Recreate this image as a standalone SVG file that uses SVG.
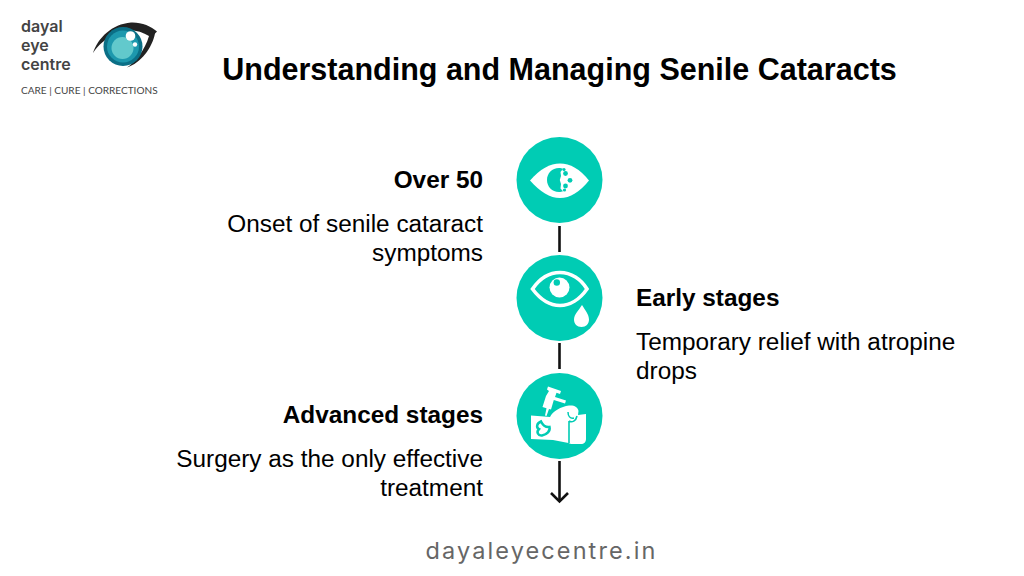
<svg xmlns="http://www.w3.org/2000/svg" width="1024" height="576" viewBox="0 0 1024 576">
<style>
text{font-family:"Liberation Sans",Arial,sans-serif;fill:#000}
.h{font-size:24.350px;font-weight:700}
.b{font-size:24.350px}
.r{text-anchor:end}
.c{fill:#00ccb4}
.w{fill:#fff}
.logo-name{font-family:Inter,"Open Sans",sans-serif;font-size:16px;font-weight:600;fill:#444}
.logo-tag{font-family:Lato,"Open Sans",sans-serif;font-size:10.050px;fill:#444}
.conn{stroke:#111;stroke-width:2.600;fill:none}
.tl{stroke:#00ccb4;fill:none}
</style>
<rect width="1024" height="576" fill="#fff"/>
<g id="logo">
<text class="logo-name" x="21" y="32">dayal</text>
<text class="logo-name" x="21" y="51">eye</text>
<text class="logo-name" x="21" y="70">centre</text>
<text class="logo-tag" x="21" y="94">CARE | CURE | CORRECTIONS</text>
<path d="M93 53C98 38 112 24 131 22.500C141 22 151 26 157 31.500L155 33.500C152 48 141 63 127 67.500C135 62 145 50 149 36C140 30 127 28 117 33C106 38 98 45 93 53Z" fill="#222"/>
<circle cx="123" cy="46.500" r="19.500" fill="#0b6f86"/>
<circle cx="123" cy="46.500" r="16" fill="#1d98ad"/>
<circle cx="122.500" cy="48" r="11" fill="#62c9cc"/>
<circle cx="130.500" cy="36" r="4.800" fill="#fff"/>
<circle cx="135" cy="44.500" r="2.200" fill="#fff"/>
</g>
<g id="title"><text x="559.500" y="79.500" text-anchor="middle" font-size="30.500" font-weight="700">Understanding and Managing Senile Cataracts</text></g>
<g id="connectors" class="conn">
<path d="M559.500 226V252"/>
<path d="M559.500 343V369"/>
<path d="M559.500 461V502"/>
<path d="M551 493L559.500 501.500L568 493"/>
</g>
<g id="node-over-50">
<circle class="c" cx="559.500" cy="180" r="43"/>
<path class="w" d="M530 180.500C540 169 550 163.500 560 163.500C570 163.500 580 169 589 180.500C580 192 570 198 560 198C550 198 540 192 530 180.500Z"/>
<path class="c" d="M559 168C552 168 547 173.500 547 180C547 186.500 552 192 559 192C560.500 192 562 191.700 563 191.200L560.500 188.500L561 184L559.800 180L561 176L560.500 172L563 168.800C562 168.300 560.500 168 559 168Z"/>
<circle class="c" cx="565.500" cy="173.500" r="2.400"/><circle class="c" cx="570" cy="180.300" r="2.400"/><circle class="c" cx="565.500" cy="186" r="2.400"/><circle class="c" cx="564" cy="169.500" r="1.600"/><circle class="c" cx="564.500" cy="190" r="1.600"/>
<text class="h r" x="483" y="188">Over 50</text>
<text class="b r" x="483" y="232">Onset of senile cataract</text>
<text class="b r" x="483" y="261">symptoms</text>
</g>
<g id="node-early-stages">
<circle class="c" cx="559.500" cy="298" r="43"/>
<path d="M532.500 289C540 278 550 272.500 560 272.500C571 272.500 581 279 587 289C580 299 570 305.500 560 305.500C550 305.500 540 299 532.500 289Z" fill="none" stroke="#fff" stroke-width="3.600"/>
<circle class="w" cx="559.500" cy="287.500" r="10"/>
<circle class="c" cx="556.800" cy="282.500" r="3.200"/>
<path class="w" d="M582 305C585 310 589 314.500 589 319.500C589 324 586 327 581.500 327C577 327 574 324 574 319.500C574 314.500 579 310 582 305Z"/>
<text class="h" x="636" y="306">Early stages</text>
<text class="b" x="636" y="350">Temporary relief with atropine</text>
<text class="b" x="636" y="379">drops</text>
</g>
<g id="node-advanced-stages">
<circle class="c" cx="559.500" cy="416" r="43"/>
<path class="w" d="M531 415.500L544 416.500L550 417C553 411 561 406.500 569 405.500C574 405 578 407 578.500 411L578 415L586 414V439C586 442 584 444 581 444H573C571 444 569 443.500 568.500 443L553 440L531 439Z"/>
<path class="tl" stroke-width="1.600" d="M569 421V443M569 421C572 423 576 421 577 416"/>
<path class="tl" stroke-width="1.500" d="M568 412C568 416 570 419 574 418"/>
<path class="tl" stroke-width="2.500" d="M541 421.500C536.500 423.500 536 427.500 539 429C536 432 538 436 542 435.500C547 434.500 550.500 431 549.500 427C546 427.500 543 425.500 541 421.500Z"/>
<path class="w" d="M548 386.500L561 391L560 394L556.500 392.800L555 397L566 400.500L565 403.500L553.800 400L551 409.500L549 409L546.500 416L545 415.500L546.500 408.300L542.500 407L546 396L549 391L547 389.500Z"/>
<text class="h r" x="483" y="423">Advanced stages</text>
<text class="b r" x="483" y="467">Surgery as the only effective</text>
<text class="b r" x="483" y="496">treatment</text>
</g>
<g id="footer"><text x="541.500" y="559" text-anchor="middle" font-size="23.500" letter-spacing="2.100" style="font-family:Inter,'Open Sans',sans-serif;fill:#666">dayaleyecentre.in</text></g>
</svg>
